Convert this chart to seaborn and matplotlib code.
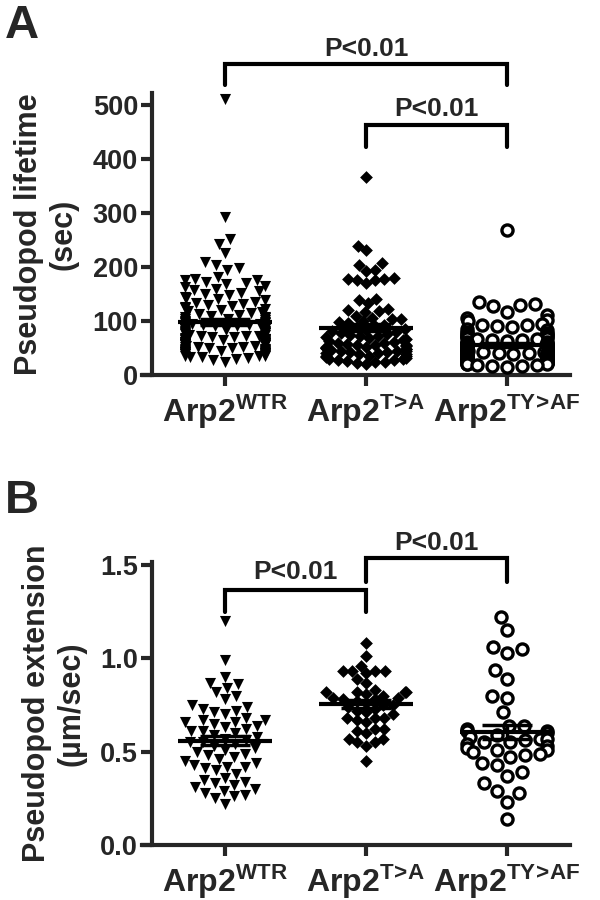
import warnings
import numpy as np
import pandas as pd
import seaborn as sns
import matplotlib.pyplot as plt

warnings.filterwarnings('ignore')

# groups and tick labels
groups = ['WTR', 'T>A', 'TY>AF']
tick_labels = [r'Arp2$^{\mathbf{WTR}}$', r'Arp2$^{\mathbf{T\!>\!A}}$', r'Arp2$^{\mathbf{TY\!>\!AF}}$']

# panel A: pseudopod lifetime (sec)
wt_life = [510, 292, 251, 243, 225, 209, 203, 198, 195,
           182, 178, 176, 175, 172, 170,
           168, 165, 163, 160, 157, 155, 152, 150,
           148, 145, 142, 140, 138, 136, 134, 132, 130,
           128, 126, 124, 122, 120, 119, 117, 115, 113, 112, 110,
           108, 107, 105, 104, 103, 102, 100, 99, 98, 97, 96, 95, 94, 93, 92, 91, 90,
           88, 87, 86, 85, 85, 84, 82, 81, 80, 79, 78, 78, 77, 76, 75, 74, 73, 72, 72, 71, 70,
           68, 67, 66, 66, 65, 65, 64, 63, 62, 62, 61, 60, 60, 59, 58, 58, 57, 56, 55, 55,
           54, 53, 52, 52, 51, 50, 50,
           48, 48, 47, 46, 45, 45, 44, 43, 42, 42, 41, 40, 40, 39, 38, 38, 37, 36, 35, 35,
           34, 33, 32, 30, 28, 25]
ta_life = [367, 239, 231, 207, 203, 195, 192, 180, 178, 177, 176, 175, 170,
           140, 138, 133, 122, 120, 118, 117, 110, 106, 104, 103, 100, 98, 96, 93,
           90, 88, 86, 84, 82, 80, 78, 76, 75, 73, 72, 70, 68, 66, 65, 63, 62, 60, 60,
           58, 56, 55, 55, 53, 52, 52, 50, 50, 48, 48, 46, 45, 45, 44, 43, 42, 40, 40,
           38, 38, 36, 35, 35, 33, 32, 30, 30, 28, 28, 26, 25, 24, 22, 20]
tyaf_life = [268, 135, 132, 130, 128, 117, 111, 105, 102, 100, 95, 93, 92, 90, 88, 85, 83,
             80, 78, 77, 76, 75, 74, 72, 71, 70, 69,
             68, 67, 66, 65, 64, 63, 62, 61, 60, 60,
             59, 58, 57, 56, 56, 55, 55, 54, 53, 52, 52,
             51, 50, 50, 50, 49, 48, 48, 47, 46, 46, 45, 45,
             45, 44, 43, 43, 42, 42, 41, 40, 40, 40, 39,
             39, 38, 38, 37, 36, 36, 35, 35, 35, 34, 34,
             33, 32, 32, 31, 30, 30, 30, 29, 28, 28, 28, 27,
             26, 25, 25, 25, 24, 23, 22, 22, 21, 20, 20, 19, 18, 17, 16, 15]

# panel B: pseudopod extension (um/sec)
wt_ext = [1.20, 0.99, 0.90, 0.87, 0.86, 0.84, 0.82, 0.80, 0.78, 0.75,
          0.74, 0.73, 0.72, 0.71, 0.70, 0.68, 0.67, 0.67, 0.66, 0.66,
          0.65, 0.64, 0.63, 0.62, 0.61, 0.61, 0.60, 0.59, 0.58, 0.57,
          0.56, 0.55, 0.55, 0.54, 0.53, 0.52, 0.51, 0.50, 0.49, 0.48,
          0.47, 0.46, 0.45, 0.44, 0.43, 0.42, 0.42, 0.41, 0.40, 0.38,
          0.36, 0.35, 0.34, 0.33, 0.32, 0.31, 0.30, 0.29, 0.28, 0.27,
          0.26, 0.25, 0.22]
ta_ext = [1.08, 1.01, 0.96, 0.93, 0.93, 0.93, 0.93, 0.92, 0.89, 0.87,
          0.83, 0.82, 0.82, 0.82, 0.82, 0.81, 0.80, 0.79, 0.79, 0.78,
          0.78, 0.77, 0.76, 0.75, 0.75, 0.74, 0.73, 0.72, 0.71, 0.70,
          0.68, 0.68, 0.68, 0.67, 0.66, 0.62, 0.62, 0.61, 0.60, 0.57,
          0.57, 0.55, 0.55, 0.53, 0.45]
tyaf_ext = [1.22, 1.15, 1.06, 1.05, 1.03, 0.94, 0.89, 0.80, 0.79, 0.71,
            0.64, 0.64, 0.62, 0.61, 0.61, 0.60, 0.59, 0.58, 0.57, 0.57,
            0.56, 0.55, 0.55, 0.54, 0.53, 0.52, 0.51, 0.51, 0.50, 0.49,
            0.48, 0.47, 0.44, 0.43, 0.39, 0.37, 0.33, 0.29, 0.28, 0.23, 0.14]

sns.set_style('ticks')
plt.rcParams['font.family'] = ['Liberation Sans', 'DejaVu Sans']
plt.rcParams['font.weight'] = 'bold'
plt.rcParams['mathtext.fontset'] = 'custom'
plt.rcParams['mathtext.rm'] = 'Liberation Sans:bold'
plt.rcParams['mathtext.bf'] = 'Liberation Sans:bold'
plt.rcParams['mathtext.default'] = 'bf'

markers = {'WTR': ('v', 'black', 8.0), 'T>A': ('D', 'black', 6.5), 'TY>AF': ('o', 'white', 8.0)}
# category spacing; swarm width is 0.8 data units, so it covers ~0.57 of a slot
SP = 1.4
xpos = [i * SP for i in range(3)]


def make_df(a, b, c):
    return pd.DataFrame({
        'group': ['WTR'] * len(a) + ['T>A'] * len(b) + ['TY>AF'] * len(c),
        'value': list(a) + list(b) + list(c),
    })


def draw_panel(ax, df, ymax, yticks, ylabel, brackets):
    for i, g in enumerate(groups):
        m, fc, sz = markers[g]
        sub = df[df['group'] == g].copy()
        sub['x'] = xpos[i]
        sns.swarmplot(data=sub, x='x', y='value', ax=ax, native_scale=True, orient='x',
                      marker=m, color=fc, size=sz,
                      edgecolor='black', linewidth=2.4 if g == 'TY>AF' else 0,
                      zorder=3, clip_on=False)
    # mean +/- SEM
    for i, g in enumerate(groups):
        v = np.array(df.loc[df['group'] == g, 'value'])
        mu = v.mean()
        sem = v.std(ddof=1) / np.sqrt(len(v))
        x = xpos[i]
        ax.hlines(mu, x - 0.33 * SP, x + 0.33 * SP, color='black', lw=3, zorder=6)
        ax.hlines([mu - sem, mu + sem], x - 0.18 * SP, x + 0.18 * SP, color='black', lw=2.5, zorder=6)
        ax.vlines(x, mu - sem, mu + sem, color='black', lw=2.5, zorder=6)

    xl, xr = -0.518 * SP, 2.447 * SP
    ax.set_xlim(xl, xr)
    ax.set_ylim(0, ymax)
    ax.set_yticks(yticks)
    ax.set_xticks(xpos)
    ax.set_xticklabels(tick_labels, fontsize=23, fontweight='bold')
    ax.tick_params(axis='y', labelsize=19.5, width=3, length=8, pad=2)
    ax.tick_params(axis='x', width=3, length=8, pad=5)
    for lab in ax.get_yticklabels():
        lab.set_fontweight('bold')
    ax.set_xlabel('')
    ax.set_ylabel(ylabel, fontsize=22, fontweight='bold', labelpad=10, linespacing=1.2)
    for s in ['top', 'right']:
        ax.spines[s].set_visible(False)
    for s in ['left', 'bottom']:
        ax.spines[s].set_linewidth(3)
    ax.spines['bottom'].set_bounds(xl - 0.07 * SP, xr)

    for (i0, i1, yh, yl0, yl1, ytxt) in brackets:
        x0, x1 = xpos[i0], xpos[i1]
        ax.plot([x0, x0, x1, x1], [yl0, yh, yh, yl1], color='black', lw=3,
                clip_on=False, solid_joinstyle='miter', zorder=4)
        ax.text((x0 + x1) / 2, ytxt, 'P<0.01', ha='center', va='center',
                fontsize=19, fontweight='bold')


fig = plt.figure(figsize=(6, 9), dpi=100)
axA = fig.add_axes([0.2533, 0.5833, 0.6967, 0.3134])
axB = fig.add_axes([0.2533, 0.0611, 0.6967, 0.3145])

draw_panel(axA, make_df(wt_life, ta_life, tyaf_life), 522, [0, 100, 200, 300, 400, 500],
           'Pseudopod lifetime\n(sec)',
           [(0, 2, 576, 537, 537, 604), (1, 2, 463, 422, 422, 492)])
draw_panel(axB, make_df(wt_ext, ta_ext, tyaf_ext), 1.516, [0.0, 0.5, 1.0, 1.5],
           'Pseudopod extension\n(µm/sec)',
           [(0, 1, 1.366, 1.248, 1.248, 1.46), (1, 2, 1.537, 1.409, 1.409, 1.62)])
axB.yaxis.set_major_formatter(plt.FormatStrFormatter('%.1f'))

fig.text(0.008, 0.996, 'A', fontsize=34, fontweight='bold', va='top', ha='left')
fig.text(0.008, 0.468, 'B', fontsize=34, fontweight='bold', va='top', ha='left')

fig.savefig('out.png', dpi=100)
